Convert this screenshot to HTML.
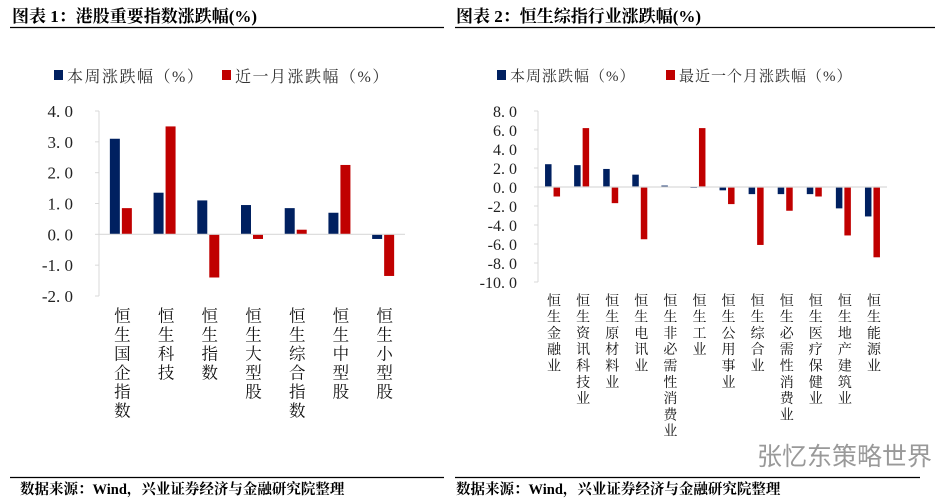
<!DOCTYPE html>
<html><head><meta charset="utf-8"><style>
body{margin:0;background:#fff;width:948px;height:498px;overflow:hidden}
svg{display:block;font-family:"Liberation Serif","Noto Serif CJK SC",serif}
.t{font-weight:bold;font-size:17px}
</style></head><body>
<svg id="s" width="948" height="498">
<text x="12" y="22" class="t">图表 1：港股重要指数涨跌幅(%)</text>
<line x1="10" y1="27.5" x2="444" y2="27.5" stroke="#000" stroke-width="1.2"/>
<text x="456" y="22" class="t">图表 2：恒生综指行业涨跌幅(%)</text>
<line x1="455" y1="27.5" x2="935" y2="27.5" stroke="#000" stroke-width="1.2"/>
<g font-size="16" fill="#333" letter-spacing="1.5">
<rect x="54" y="70" width="9" height="10" fill="#002060"/>
<text x="67" y="82">本周涨跌幅（%）</text>
<rect x="222" y="70" width="9" height="10" fill="#c00000"/>
<text x="235" y="82">近一月涨跌幅（%）</text>
</g>
<g font-size="15" fill="#333" letter-spacing="1">
<rect x="497" y="70" width="9" height="10" fill="#002060"/>
<text x="510" y="81">本周涨跌幅（%）</text>
<rect x="666" y="70" width="9" height="10" fill="#c00000"/>
<text x="679" y="81">最近一个月涨跌幅（%）</text>
</g>
<g id="c1"></g>
<g id="c2"></g>
<text x="757" y="465" font-family="Liberation Sans,Noto Sans CJK SC,sans-serif" font-size="25" fill="#999">张忆东策略世界</text>
<line x1="10" y1="477.5" x2="444" y2="477.5" stroke="#000" stroke-width="1.2"/>
<line x1="455" y1="477.5" x2="920" y2="477.5" stroke="#000" stroke-width="1.2"/>
<text x="20" y="494" font-size="14.5" font-weight="bold">数据来源：Wind，兴业证券经济与金融研究院整理</text>
<text x="456" y="494" font-size="14.5" font-weight="bold">数据来源：Wind，兴业证券经济与金融研究院整理</text>
</svg>
<script>
const cats1=["恒生国企指数","恒生科技","恒生指数","恒生大型股","恒生综合指数","恒生中型股","恒生小型股"];
const week1=[3.1,1.35,1.1,0.95,0.85,0.7,-0.15];
const month1=[0.85,3.5,-1.4,-0.15,0.15,2.25,-1.35];
const ticks1=[4,3,2,1,0,-1,-2];
const cats2=["恒生金融业","恒生资讯科技业","恒生原材料业","恒生电讯业","恒生非必需性消费业","恒生工业","恒生公用事业","恒生综合业","恒生必需性消费业","恒生医疗保健业","恒生地产建筑业","恒生能源业"];
const week2=[2.4,2.3,1.9,1.3,0.15,-0.1,-0.35,-0.75,-0.75,-0.75,-2.25,-3.1];
const month2=[-1.0,6.2,-1.7,-5.5,-0.05,6.2,-1.8,-6.1,-2.5,-1.0,-5.1,-7.4];
const ticks2=[8,6,4,2,0,-2,-4,-6,-8,-10];
const NS="http://www.w3.org/2000/svg";
function mk(p,t,a){const e=document.createElementNS(NS,t);for(const k in a)e.setAttribute(k,a[k]);p.appendChild(e);return e;}
function draw(g,o){
 const y=v=>o.y0+(o.max-v)*(o.y1-o.y0)/(o.max-o.min);
 const step=(o.x1-o.x0)/o.cats.length;
 const ax=mk(g,'line',{x1:o.x0,y1:o.y0,x2:o.x0,y2:o.y1,stroke:'#d9d9d9'});
 
 
 o.ticks.forEach(t=>{
  const tk=mk(g,'line',{x1:o.x0-4,y1:y(t),x2:o.x0,y2:y(t),stroke:'#d9d9d9'});
  
  
  const tl=mk(g,'text',{x:o.x0-o.lblOff,y:y(t)+6,'text-anchor':'end','font-size':o.tfs,fill:'#222'});
  tl.textContent=t.toFixed(1).replace('.','. ');
  
  
 });
 o.cats.forEach((c,i)=>{
  const cx=o.x0+step*(i+0.5);
  [[o.a,'#002060','bar-week'],[o.b,'#c00000','bar-month']].forEach((s,j)=>{
   const v=s[0][i];const x=j==0?cx-o.gap/2-o.bw:cx+o.gap/2;
   const r=mk(g,'rect',{x:x,y:Math.min(y(v),y(0)),width:o.bw,height:Math.abs(y(v)-y(0)),fill:s[1]});
   
   
  });
  const l=mk(g,'text',{x:cx,y:o.ly,'font-size':o.lfs,style:'writing-mode:vertical-rl;letter-spacing:'+o.ls+'px',fill:'#111'});
  l.textContent=c;
  
  
 });
 const z=mk(g,'line',{x1:o.x0,y1:y(0),x2:o.x1,y2:y(0),stroke:'#d9d9d9','stroke-width':1.2});
 
 
}
draw(document.getElementById('c1'),{cats:cats1,a:week1,b:month1,ticks:ticks1,max:4,min:-2,x0:99,x1:405,y0:111,y1:296,bw:10,gap:2,lfs:16.5,ly:307,ls:2.5,tfs:17,lblOff:26});
draw(document.getElementById('c2'),{cats:cats2,a:week2,b:month2,ticks:ticks2,max:8,min:-10,x0:538,x1:887,y0:111,y1:282,bw:6.5,gap:2,lfs:14,ly:293,ls:2.3,tfs:16,lblOff:21});
</script>
</body></html>
